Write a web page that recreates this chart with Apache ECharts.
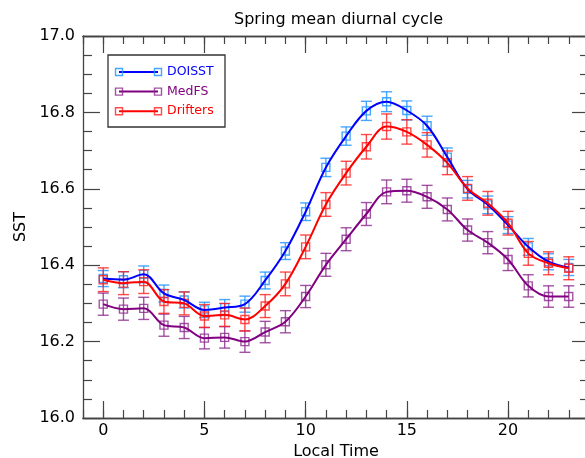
<!DOCTYPE html>
<html><head><meta charset="utf-8">
<script src="https://cdn.jsdelivr.net/npm/echarts@6/dist/echarts.min.js"></script>
<style>html,body{margin:0;padding:0;background:#fff}#c{width:585px;height:458px}</style>
</head><body><div id="c"></div>
<script>
const hours = [0,1,2,3,4,5,6,7,8,9,10,11,12,13,14,15,16,17,18,19,20,21,22,23];
const doisst = [16.365,16.362,16.376,16.326,16.309,16.283,16.289,16.298,16.360,16.437,16.540,16.656,16.738,16.804,16.828,16.805,16.765,16.683,16.599,16.558,16.505,16.448,16.409,16.394];
const doisstErr = [0.021,0.021,0.022,0.022,0.021,0.020,0.021,0.021,0.022,0.022,0.023,0.024,0.024,0.025,0.026,0.025,0.025,0.024,0.023,0.023,0.022,0.022,0.021,0.021];
const medfs = [16.298,16.285,16.287,16.243,16.237,16.209,16.211,16.200,16.225,16.252,16.318,16.401,16.468,16.534,16.592,16.595,16.579,16.546,16.492,16.459,16.415,16.346,16.318,16.318];
const medfsErr = [0.029,0.029,0.029,0.029,0.029,0.028,0.028,0.028,0.028,0.029,0.029,0.030,0.030,0.030,0.031,0.030,0.030,0.030,0.029,0.029,0.029,0.029,0.028,0.028];
const drifters = [16.362,16.353,16.357,16.305,16.300,16.267,16.270,16.258,16.293,16.351,16.448,16.559,16.641,16.710,16.763,16.749,16.715,16.668,16.601,16.562,16.510,16.431,16.405,16.392];
const driftersErr = [0.031,0.030,0.031,0.031,0.030,0.030,0.030,0.030,0.030,0.031,0.031,0.031,0.031,0.032,0.033,0.032,0.032,0.031,0.031,0.031,0.031,0.031,0.030,0.030];
const xMajorTicks = [0,5,10,15,20];
const seriesNames = ['DOISST','MedFS','Drifters'];
const lineColors = ['#0000ff','#800080','#ff0000'];
const markColors = ['rgba(40,150,255,0.85)','rgba(140,40,140,0.8)','rgba(255,30,30,0.8)'];

const FONT = 'DejaVu Sans';
const AX = '#444';
const chart = echarts.init(document.getElementById('c'), null, {renderer:'canvas'});

function errRender(color, capHalf, markHalf) {
  return function (params, api) {
    const x = api.value(0), y = api.value(1), e = api.value(2);
    const p = api.coord([x, y]);
    const t = api.coord([x, y + e]);
    const b = api.coord([x, y - e]);
    const st = {stroke: color, lineWidth: 1.4, fill: 'none'};
    return {type:'group', children:[
      {type:'line', shape:{x1:p[0], y1:t[1], x2:p[0], y2:b[1]}, style:st},
      {type:'line', shape:{x1:p[0]-capHalf, y1:t[1], x2:p[0]+capHalf, y2:t[1]}, style:st},
      {type:'line', shape:{x1:p[0]-capHalf, y1:b[1], x2:p[0]+capHalf, y2:b[1]}, style:st},
      {type:'rect', shape:{x:p[0]-markHalf, y:p[1]-markHalf, width:markHalf*2, height:markHalf*2}, style:st}
    ]};
  };
}

const vals = [doisst, medfs, drifters];
const errs = [doisstErr, medfsErr, driftersErr];
const series = [];
vals.forEach(function (v, i) {
  series.push({
    type:'custom', name: seriesNames[i], xAxisIndex:0, yAxisIndex:0, z: 2,
    encode:{x:0, y:1}, clip:false,
    renderItem: errRender(markColors[i], 5.5, 4),
    data: hours.map(function (h, k) { return [h, v[k], errs[i][k]]; })
  });
});
vals.forEach(function (v, i) {
  series.push({
    type:'line', name: seriesNames[i] + ' line', xAxisIndex:0, yAxisIndex:0, z: 3 + i,
    symbol:'none', smooth:0.35,
    lineStyle:{color: lineColors[i], width: 2},
    data: hours.map(function (h, k) { return [h, v[k]]; })
  });
});

const lab = {fontFamily: FONT, fontSize: 16, color: '#000'};
function xAx(pos, major) {
  const o = {
    type:'value', min:-1, max:24, position: pos,
    axisLine:{show:true, onZero:false, lineStyle:{color:AX, width:1.3}},
    splitLine:{show:false},
    axisTick:{show:true, inside:true, length: major ? 17 : 8, lineStyle:{color:AX, width:1.2}},
    axisLabel:{show:false}
  };
  if (major) {
    o.axisTick.customValues = xMajorTicks;
    if (pos === 'bottom') {
      o.axisLabel = Object.assign({show:true, margin:5, customValues: xMajorTicks}, lab);
      o.name = 'Local Time';
      o.nameLocation = 'middle';
      o.nameGap = 20;
      o.nameTextStyle = {fontFamily: FONT, fontSize: 16, color:'#000'};
    }
  } else {
    o.interval = 1;
  }
  return o;
}
function yAx(pos) {
  const o = {
    type:'value', min:16, max:17, interval:0.2, position: pos,
    axisLine:{show:true, onZero:false, lineStyle:{color:AX, width:1.3}},
    splitLine:{show:false},
    axisTick:{show:true, inside:true, length:17, lineStyle:{color:AX, width:1.2}},
    minorTick:{show:true, splitNumber:4, length:9, lineStyle:{color:AX, width:1.2}},
    axisLabel:{show:false}
  };
  if (pos === 'left') {
    o.axisLabel = Object.assign({show:true, margin:8, formatter: function (v) { return v.toFixed(1); }}, lab);
    o.name = 'SST';
    o.nameLocation = 'middle';
    o.nameGap = 53;
    o.nameTextStyle = {fontFamily: FONT, fontSize: 16, color:'#000'};
  }
  return o;
}

// legend drawn as graphic elements from the series names/colours
const legendChildren = [{type:'rect', shape:{x:108, y:55, width:117, height:72},
  style:{fill:'#fff', stroke:'#333', lineWidth:1.3}}];
seriesNames.forEach(function (n, i) {
  const yy = 72 + i * 19.6;
  const st = {stroke: markColors[i], lineWidth: 1.4, fill:'none'};
  legendChildren.push({type:'line', shape:{x1:119, y1:yy, x2:158, y2:yy}, style:{stroke: lineColors[i], lineWidth: 2}});
  legendChildren.push({type:'rect', shape:{x:115.5, y:yy-3.5, width:7, height:7}, style: st});
  legendChildren.push({type:'rect', shape:{x:154.5, y:yy-3.5, width:7, height:7}, style: st});
  legendChildren.push({type:'text', x:167, y:yy, style:{text:n, fill: lineColors[i], font: '12.5px "DejaVu Sans"', textVerticalAlign:'middle'}});
});

chart.setOption({
  animation:false,
  backgroundColor:'#fff',
  title:{text:'Spring mean diurnal cycle', left:229, top:7, textStyle:{fontFamily:FONT, fontSize:16, fontWeight:'normal', color:'#000'}},
  grid:{left:83, top:36, width:506, height:382, containLabel:false, outerBoundsMode:'none'},
  xAxis:[xAx('bottom', true), xAx('bottom', false), xAx('top', true), xAx('top', false)],
  yAxis:[yAx('left'), yAx('right')],
  series: series,
  graphic:[{type:'group', z:100, children: legendChildren}]
});
</script></body></html>
